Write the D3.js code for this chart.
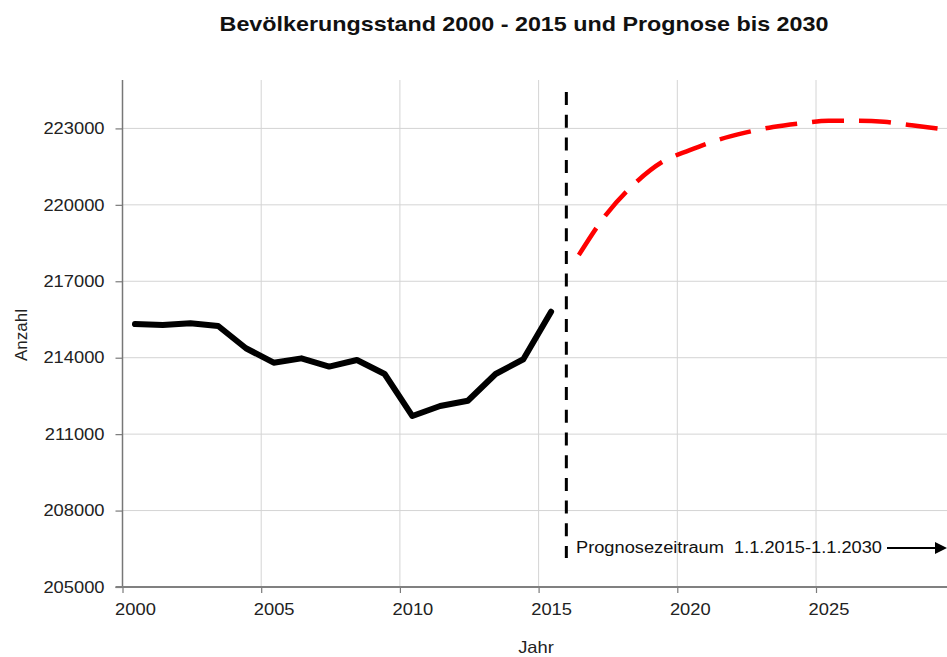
<!DOCTYPE html>
<html>
<head>
<meta charset="utf-8">
<script src="https://cdn.jsdelivr.net/npm/d3@7"></script>
<style>
  html, body { margin: 0; padding: 0; background: #fff; }
  svg { display: block; font-family: "Liberation Sans", Arial, sans-serif; }
</style>
</head>
<body>
<svg id="chart" width="947" height="657"></svg>
<script>
// ---- data ----
const histYears = [2000,2001,2002,2003,2004,2005,2006,2007,2008,2009,2010,2011,2012,2013,2014,2015];
const histValues = [215320,215280,215350,215245,214370,213805,213975,213650,213910,213360,211710,212105,212310,213360,213940,215805];
const progYears = [2016,2017,2018,2019,2020,2021,2022,2023,2024,2025,2026,2027,2028,2029,2030];
const progValues = [218030,219640,220820,221680,222145,222545,222835,223055,223200,223300,223300,223260,223120,222985,222850];
const yTicks = [205000,208000,211000,214000,217000,220000,223000];
const xTicks = [2000,2005,2010,2015,2020,2025];
const forecastStart = 2016;
const titleText = "Bevölkerungsstand 2000 - 2015 und Prognose bis 2030";
const xTitle = "Jahr";
const yTitle = "Anzahl";
const noteText = "Prognosezeitraum  1.1.2015-1.1.2030";

// ---- layout ----
const W = 947, H = 657;
const mLeft = 122.5, mBottom = 587, mTop = 80;
const pxPerYear = 27.74;
const stretch = 1.11;       // horizontal text stretch of the original
const catOffset = 0.45;     // points/labels sit inside the year interval

const svg = d3.select("#chart");
const x = d3.scaleLinear().domain([2000, 2030]).range([mLeft, mLeft + 30 * pxPerYear]);
const y = d3.scaleLinear().domain([205000, 224900]).range([mBottom, mTop]);

function stretchText(sel, f) {
  sel.each(function() {
    const w = this.getComputedTextLength();
    d3.select(this).attr("textLength", w * f).attr("lengthAdjust", "spacingAndGlyphs");
  });
}

// grid
const grid = svg.append("g").attr("stroke", "#d4d4d4").attr("stroke-width", 1);
grid.selectAll("line.h").data(yTicks.slice(1)).join("line")
  .attr("x1", mLeft).attr("x2", W)
  .attr("y1", d => y(d)).attr("y2", d => y(d));
grid.selectAll("line.v").data(xTicks.slice(1)).join("line")
  .attr("y1", mTop).attr("y2", mBottom)
  .attr("x1", d => x(d)).attr("x2", d => x(d));

// axes
const yAxis = svg.append("g").attr("transform", `translate(${mLeft},0)`)
  .call(d3.axisLeft(y).tickValues(yTicks).tickSize(7).tickPadding(11).tickFormat(d3.format("d")));
yAxis.select(".domain").remove();
yAxis.selectAll(".tick line").attr("stroke", "#7a7a7a").attr("stroke-width", 1.2);
yAxis.selectAll(".tick text").attr("font-size", 16.5).attr("fill", "#222")
  .attr("font-family", "Liberation Sans, Arial, sans-serif");
stretchText(yAxis.selectAll(".tick text"), stretch);

const xAxis = svg.append("g").attr("transform", `translate(0,${mBottom})`)
  .call(d3.axisBottom(x).tickValues(xTicks).tickSize(6).tickPadding(10).tickFormat(d3.format("d")));
xAxis.select(".domain").remove();
xAxis.selectAll(".tick line").attr("stroke", "#7a7a7a").attr("stroke-width", 1.2);
xAxis.selectAll(".tick text").attr("font-size", 16.5).attr("fill", "#222")
  .attr("font-family", "Liberation Sans, Arial, sans-serif")
  .attr("dx", catOffset * pxPerYear);
stretchText(xAxis.selectAll(".tick text"), stretch);

svg.append("line").attr("x1", mLeft).attr("x2", mLeft).attr("y1", mTop).attr("y2", mBottom + 1)
  .attr("stroke", "#777").attr("stroke-width", 1.5);
svg.append("line").attr("x1", mLeft - 7).attr("x2", W).attr("y1", mBottom).attr("y2", mBottom)
  .attr("stroke", "#808080").attr("stroke-width", 2);

// forecast divider
svg.append("line")
  .attr("x1", x(forecastStart)).attr("x2", x(forecastStart))
  .attr("y1", 92).attr("y2", 558)
  .attr("stroke", "#000").attr("stroke-width", 3).attr("stroke-dasharray", "13,9.7");

// lines
const line = d3.line().x(d => x(d[0] + catOffset)).y(d => y(d[1]));
svg.append("path")
  .datum(histYears.map((yr, i) => [yr, histValues[i]]))
  .attr("d", line).attr("fill", "none").attr("stroke", "#000")
  .attr("stroke-width", 6).attr("stroke-linejoin", "round").attr("stroke-linecap", "round");

const smooth = d3.line().x(d => x(d[0] + catOffset)).y(d => y(d[1])).curve(d3.curveMonotoneX);
svg.append("path")
  .datum(progYears.map((yr, i) => [yr, progValues[i]]))
  .attr("d", smooth).attr("fill", "none").attr("stroke", "#ff0000")
  .attr("stroke-width", 4.5).attr("stroke-dasharray", "32,15");

// annotation
svg.append("text").attr("x", 576).attr("y", 553)
  .attr("font-size", 16).attr("fill", "#111").attr("xml:space", "preserve")
  .style("white-space", "pre").text(noteText)
  .attr("textLength", 306).attr("lengthAdjust", "spacingAndGlyphs");
svg.append("line").attr("x1", 887).attr("x2", 938).attr("y1", 548).attr("y2", 548)
  .attr("stroke", "#000").attr("stroke-width", 2);
svg.append("path").attr("d", "M935,542 L947,548 L935,554 Z").attr("fill", "#000");

// titles
const title = svg.append("text").attr("x", 524).attr("y", 31).attr("text-anchor", "middle")
  .attr("font-size", 21).attr("font-weight", "bold").attr("fill", "#111").text(titleText);
stretchText(title, stretch);

const xt = svg.append("text").attr("x", 536).attr("y", 653).attr("text-anchor", "middle")
  .attr("font-size", 16.5).attr("fill", "#222").text(xTitle);
stretchText(xt, stretch);

svg.append("text").attr("transform", "translate(27,335) rotate(-90)").attr("text-anchor", "middle")
  .attr("font-size", 17).attr("fill", "#222").text(yTitle);
</script>
</body>
</html>
